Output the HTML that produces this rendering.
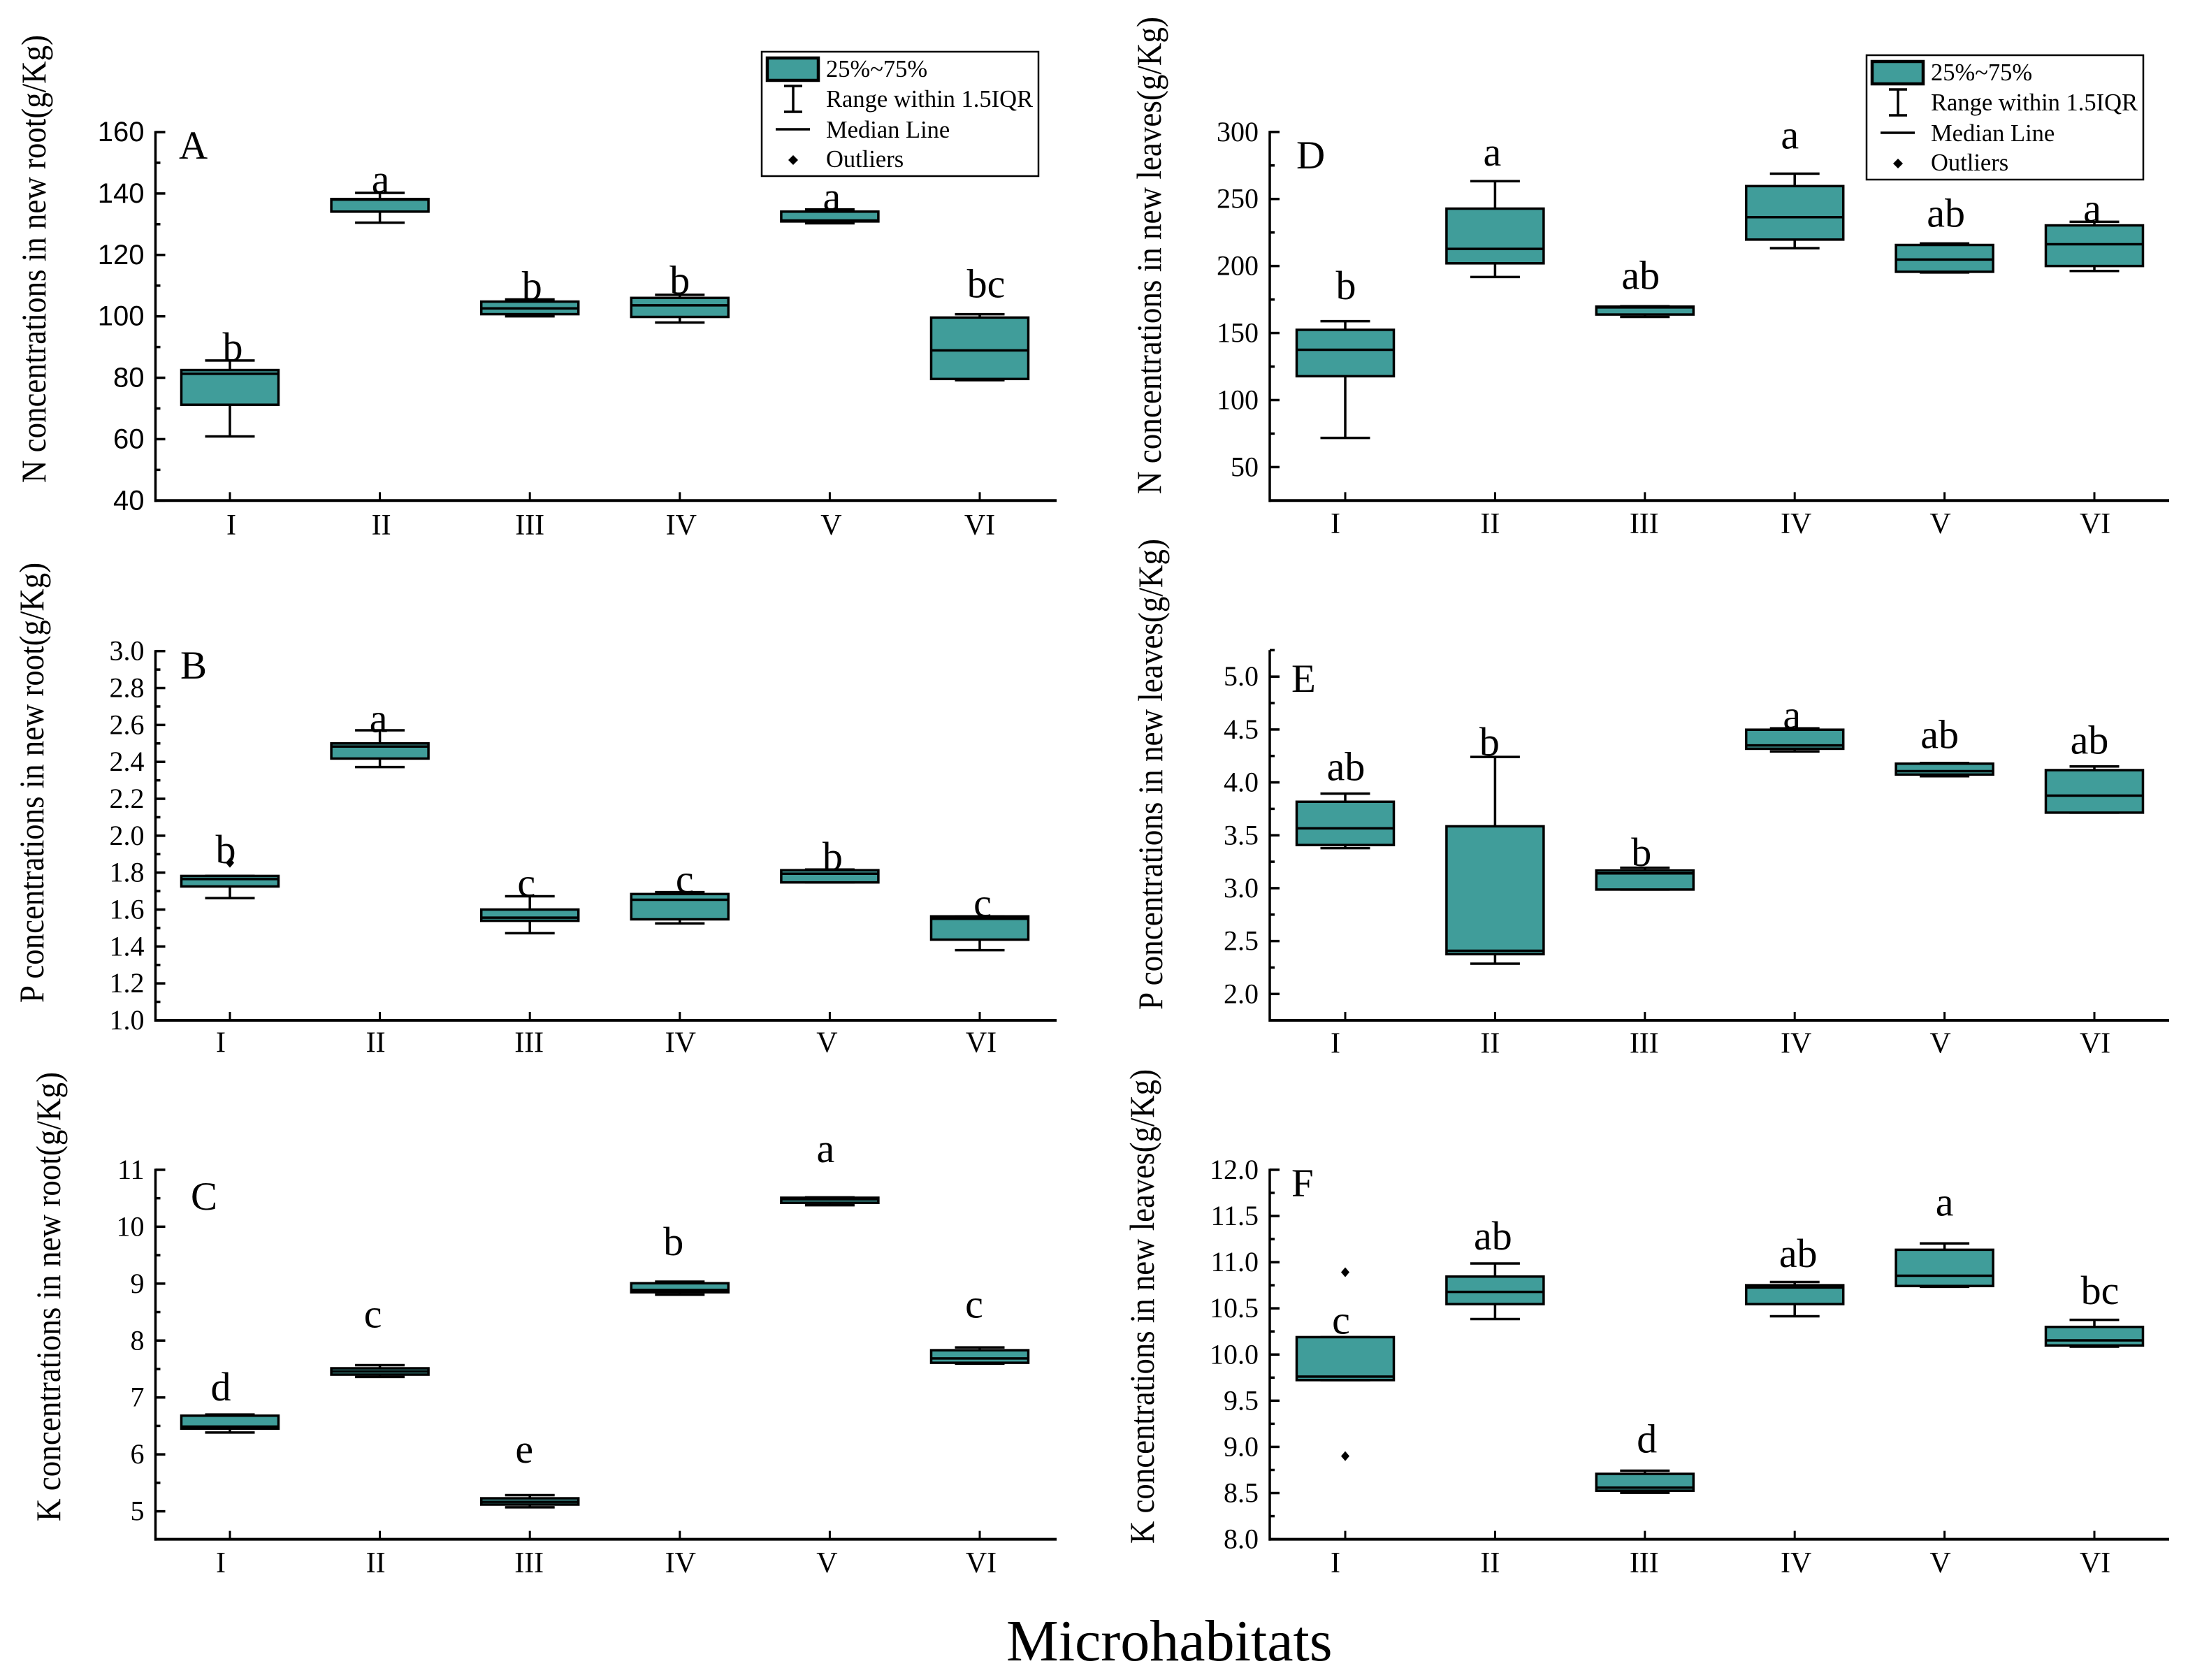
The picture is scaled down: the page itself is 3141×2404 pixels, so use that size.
<!DOCTYPE html>
<html lang="en">
<head>
<meta charset="utf-8">
<title>Nutrient concentrations by microhabitat</title>
<style>
html,body{margin:0;padding:0;background:#fff;}
svg{display:block;}
text{font-family:"Liberation Serif",serif;fill:#000;}
</style>
</head>
<body>
<svg id="figure" xmlns="http://www.w3.org/2000/svg" width="3141" height="2404" viewBox="0 0 3141 2404">
  <rect x="0" y="0" width="3141" height="2404" fill="#ffffff"/>
  <text x="1440" y="2376" font-size="84">Microhabitats</text>

  <g transform="translate(1090,74)">
    <rect x="0" y="0" width="396" height="178" fill="#fff" stroke="#000" stroke-width="2.5"/>
    <rect x="8" y="9" width="73" height="32" fill="#409d9a" stroke="#000" stroke-width="4.5"/>
    <path d="M32 49H58M45 49V86M32 86H58" fill="none" stroke="#000" stroke-width="3.5"/>
    <line x1="20" y1="111" x2="69" y2="111" stroke="#000" stroke-width="3.5"/>
    <path d="M45 148L52 155L45 162L38 155Z" fill="#000"/>
    <text x="92" y="36" font-size="34.5">25%~75%</text>
    <text x="92" y="79" font-size="34.5">Range within 1.5IQR</text>
    <text x="92" y="123" font-size="34.5">Median Line</text>
    <text x="92" y="165" font-size="34.5">Outliers</text>
  </g>
  <g transform="translate(2671,79)">
    <rect x="0" y="0" width="396" height="178" fill="#fff" stroke="#000" stroke-width="2.5"/>
    <rect x="8" y="9" width="73" height="32" fill="#409d9a" stroke="#000" stroke-width="4.5"/>
    <path d="M32 49H58M45 49V86M32 86H58" fill="none" stroke="#000" stroke-width="3.5"/>
    <line x1="20" y1="111" x2="69" y2="111" stroke="#000" stroke-width="3.5"/>
    <path d="M45 148L52 155L45 162L38 155Z" fill="#000"/>
    <text x="92" y="36" font-size="34.5">25%~75%</text>
    <text x="92" y="79" font-size="34.5">Range within 1.5IQR</text>
    <text x="92" y="123" font-size="34.5">Median Line</text>
    <text x="92" y="165" font-size="34.5">Outliers</text>
  </g>
</svg>
<script>
// ---------- shared categories ----------
const categories = ['I', 'II', 'III', 'IV', 'V', 'VI'];

// ---------- Panel A: N in new root ----------
const a_q3 = [82.5, 138.2, 104.8, 106.0, 134.1, 99.6];
const a_q1 = [71.2, 134.1, 100.7, 99.8, 130.9, 79.6];
const a_median = [81.3, 138.0, 102.6, 103.6, 131.2, 88.9];
const a_high = [85.6, 140.2, 105.5, 107.0, 134.8, 100.7];
const a_low = [60.9, 130.5, 100.0, 98.0, 130.3, 79.2];
const a_outliers = [[], [], [], [], [], []];
const a_letters = ['b', 'a', 'b', 'b', 'a', 'bc'];
const a_letterLevel = [86, 140.6, 106, 107.8, 135, 106.6];
const a_ticks = [40, 60, 80, 100, 120, 140, 160];
const a_tickLabels = ['40', '60', '80', '100', '120', '140', '160'];
const a_minorTicks = [50, 70, 90, 110, 130, 150];

// ---------- Panel B: P in new root ----------
const b_q3 = [1.782, 2.50, 1.60, 1.684, 1.813, 1.563];
const b_q1 = [1.725, 2.418, 1.539, 1.547, 1.747, 1.437];
const b_median = [1.765, 2.483, 1.556, 1.653, 1.794, 1.55];
const b_high = [1.782, 2.571, 1.672, 1.694, 1.817, 1.563];
const b_low = [1.662, 2.372, 1.472, 1.525, 1.747, 1.38];
const b_outliers = [[1.853], [], [], [], [], []];
const b_letters = ['b', 'a', 'c', 'c', 'b', 'c'];
const b_letterLevel = [1.859, 2.569, 1.679, 1.699, 1.822, 1.569];
const b_ticks = [1.0, 1.2, 1.4, 1.6, 1.8, 2.0, 2.2, 2.4, 2.6, 2.8, 3.0];
const b_tickLabels = ['1.0', '1.2', '1.4', '1.6', '1.8', '2.0', '2.2', '2.4', '2.6', '2.8', '3.0'];
const b_minorTicks = [1.1, 1.3, 1.5, 1.7, 1.9, 2.1, 2.3, 2.5, 2.7, 2.9];

// ---------- Panel C: K in new root ----------
const c_q3 = [6.68, 7.512, 5.228, 9.007, 10.509, 7.83];
const c_q1 = [6.453, 7.401, 5.118, 8.848, 10.419, 7.609];
const c_median = [6.488, 7.457, 5.166, 8.889, 10.481, 7.685];
const c_high = [6.70, 7.567, 5.284, 9.035, 10.516, 7.879];
const c_low = [6.384, 7.36, 5.07, 8.806, 10.377, 7.595];
const c_outliers = [[], [], [], [], [], []];
const c_letters = ['d', 'c', 'e', 'b', 'a', 'c'];
const c_letterLevel = [6.972, 8.253, 5.879, 9.526, 11.159, 8.426];
const c_ticks = [5, 6, 7, 8, 9, 10, 11];
const c_tickLabels = ['5', '6', '7', '8', '9', '10', '11'];
const c_minorTicks = [5.5, 6.5, 7.5, 8.5, 9.5, 10.5];

// ---------- Panel D: N in new leaves ----------
const d_q3 = [152.4, 242.8, 169.7, 259.6, 215.7, 230.3];
const d_q1 = [117.8, 202, 163.8, 219.7, 195.7, 200];
const d_median = [137.5, 212.8, 169.1, 236.4, 204.8, 216.2];
const d_high = [158.8, 263.3, 170, 268.9, 216.8, 233];
const d_low = [71.8, 191.8, 162, 213.3, 195.2, 196.3];
const d_outliers = [[], [], [], [], [], []];
const d_letters = ['b', 'a', 'ab', 'a', 'ab', 'a'];
const d_letterLevel = [176.3, 276, 183.8, 288.6, 230.3, 234];
const d_ticks = [50, 100, 150, 200, 250, 300];
const d_tickLabels = ['50', '100', '150', '200', '250', '300'];
const d_minorTicks = [75, 125, 175, 225, 275];

// ---------- Panel E: P in new leaves ----------
const e_q3 = [3.817, 3.585, 3.167, 4.498, 4.177, 4.116];
const e_q1 = [3.408, 2.376, 2.987, 4.318, 4.074, 3.714];
const e_median = [3.566, 2.408, 3.14, 4.35, 4.106, 3.875];
const e_high = [3.894, 4.241, 3.193, 4.511, 4.183, 4.151];
const e_low = [3.379, 2.286, 2.987, 4.293, 4.058, 3.714];
const e_outliers = [[], [], [], [], [], []];
const e_letters = ['ab', 'b', 'b', 'a', 'ab', 'ab'];
const e_letterLevel = [4.035, 4.267, 3.225, 4.524, 4.338, 4.286];
const e_ticks = [2.0, 2.5, 3.0, 3.5, 4.0, 4.5, 5.0];
const e_tickLabels = ['2.0', '2.5', '3.0', '3.5', '4.0', '4.5', '5.0'];
const e_minorTicks = [2.25, 2.75, 3.25, 3.75, 4.25, 4.75, 5.25];

// ---------- Panel F: K in new leaves ----------
const f_q3 = [10.188, 10.844, 8.708, 10.75, 11.134, 10.299];
const f_q1 = [9.723, 10.546, 8.525, 10.546, 10.742, 10.098];
const f_median = [9.761, 10.678, 8.559, 10.725, 10.853, 10.153];
const f_high = [10.188, 10.985, 8.742, 10.785, 11.203, 10.375];
const f_low = [9.723, 10.384, 8.503, 10.414, 10.733, 10.085];
const f_outliers = [[10.891, 8.9], [], [], [], [], []];
const f_letters = ['c', 'ab', 'd', 'ab', 'a', 'bc'];
const f_letterLevel = [10.239, 11.151, 8.955, 10.964, 11.518, 10.563];
const f_ticks = [8.0, 8.5, 9.0, 9.5, 10.0, 10.5, 11.0, 11.5, 12.0];
const f_tickLabels = ['8.0', '8.5', '9.0', '9.5', '10.0', '10.5', '11.0', '11.5', '12.0'];
const f_minorTicks = [8.25, 8.75, 9.25, 9.75, 10.25, 10.75, 11.25, 11.75];

// ---------- panel wiring (layout kept apart from the data above) ----------
const FILL = '#409d9a';
const LEFT = {axisX: 222.5, axisEnd: 1512, first: 329, step: 214.6};
const RIGHT = {axisX: 1817, axisEnd: 3104, first: 1925, step: 214.4};

function series(q3, q1, median, high, low, outliers, letters, letterLevel, ticks, tickLabels, minorTicks) {
  return {q3, q1, median, high, low, outliers, letters, letterLevel, ticks, tickLabels, minorTicks};
}

const panels = [
  {id: 'a', tag: 'A', col: LEFT, data: series(a_q3, a_q1, a_median, a_high, a_low, a_outliers, a_letters, a_letterLevel, a_ticks, a_tickLabels, a_minorTicks),
   vTop: 160, vBot: 40, vRef: 40, pxTop: 189, pxRef: 716.3, base: 716.3, tickFont: '"Liberation Sans",sans-serif',
   title: 'N concentrations in new root(g/Kg)', titleX: 65, titleY0: 691, titleY1: 50,
   tagX: 256, tagY: 227, catY: 765, catNudge: [2, 2, 0, 2, 2, 0], letterNudge: [4, 1, 3, 0, 3, 9]},
  {id: 'b', tag: 'B', col: LEFT, data: series(b_q3, b_q1, b_median, b_high, b_low, b_outliers, b_letters, b_letterLevel, b_ticks, b_tickLabels, b_minorTicks),
   vTop: 3, vBot: 1, vRef: 1, pxTop: 931.7, pxRef: 1460, base: 1460, tickFont: null,
   title: 'P concentrations in new root(g/Kg)', titleX: 62, titleY0: 1435, titleY1: 805,
   tagX: 258, tagY: 971, catY: 1505.6, catNudge: [-13, -6, -1, 1, -4, 2], letterNudge: [-6, -2, -5, 7, 4, 4]},
  {id: 'c', tag: 'C', col: LEFT, data: series(c_q3, c_q1, c_median, c_high, c_low, c_outliers, c_letters, c_letterLevel, c_ticks, c_tickLabels, c_minorTicks),
   vTop: 11, vBot: 4.51, vRef: 5, pxTop: 1673.9, pxRef: 2162.6, base: 2202.6, tickFont: null,
   title: 'K concentrations in new root(g/Kg)', titleX: 86, titleY0: 2177, titleY1: 1534,
   tagX: 273, tagY: 1731, catY: 2250, catNudge: [-13, -6, -1, 1, -4, 2], letterNudge: [-13, -10, -8, -9, -6, -8]},
  {id: 'd', tag: 'D', col: RIGHT, data: series(d_q3, d_q1, d_median, d_high, d_low, d_outliers, d_letters, d_letterLevel, d_ticks, d_tickLabels, d_minorTicks),
   vTop: 300, vBot: 25, vRef: 50, pxTop: 188.8, pxRef: 668.4, base: 716.3, tickFont: null,
   title: 'N concentrations in new leaves(g/Kg)', titleX: 1661, titleY0: 707, titleY1: 24,
   tagX: 1855, tagY: 241, catY: 763, catNudge: [-14, -7, -1, 2, -6, 1], letterNudge: [1, -4, -6, -7, 2, -3]},
  {id: 'e', tag: 'E', col: RIGHT, data: series(e_q3, e_q1, e_median, e_high, e_low, e_outliers, e_letters, e_letterLevel, e_ticks, e_tickLabels, e_minorTicks),
   vTop: 5.254, vBot: 1.75, vRef: 2, pxTop: 931.7, pxRef: 1422.3, base: 1460, tickFont: null,
   title: 'P concentrations in new leaves(g/Kg)', titleX: 1663, titleY0: 1445, titleY1: 771,
   tagX: 1848, tagY: 990, catY: 1506.6, catNudge: [-14, -7, -1, 2, -6, 1], letterNudge: [1, -8, -5, -4, -7, -7]},
  {id: 'f', tag: 'F', col: RIGHT, data: series(f_q3, f_q1, f_median, f_high, f_low, f_outliers, f_letters, f_letterLevel, f_ticks, f_tickLabels, f_minorTicks),
   vTop: 12, vBot: 8, vRef: 8, pxTop: 1673.9, pxRef: 2202.6, base: 2202.6, tickFont: null,
   title: 'K concentrations in new leaves(g/Kg)', titleX: 1651, titleY0: 2209, titleY1: 1530,
   tagX: 1848, tagY: 1712, catY: 2250, catNudge: [-14, -7, -1, 2, -6, 1], letterNudge: [-6, -3, 3, 5, 0, 8]}
];

const NS = 'http://www.w3.org/2000/svg';
const root = document.getElementById('figure');

function make(tag, parent, attrs) {
  const node = document.createElementNS(NS, tag);
  for (const key in attrs) node.setAttribute(key, attrs[key]);
  parent.appendChild(node);
  return node;
}

function drawPanel(p) {
  const d = p.data;
  const col = p.col;
  // y axis function: anchored at the top of the axis and one reference value
  const yRefTop = (p.id === 'e') ? 5 : p.vTop;
  const pxRefTop = (p.id === 'e') ? 968.2 : p.pxTop;
  const scale = (p.pxRef - pxRefTop) / (yRefTop - p.vRef);
  const yOf = function (v) { return pxRefTop + (yRefTop - v) * scale; };
  const xOf = function (i) { return col.first + i * col.step; };

  const group = make('g', root, {});
  
  

  // y axis title (stretched to the reference extent)
  const title = make('text', group, {
    transform: 'translate(' + p.titleX + ',' + p.titleY0 + ') rotate(-90)',
    'font-size': 50,
    textLength: p.titleY0 - p.titleY1,
    lengthAdjust: 'spacingAndGlyphs'
  });
  title.textContent = p.title;
  
  

  // axes
  const yAxis = make('line', group, {x1: col.axisX, x2: col.axisX, y1: p.pxTop - 1.5, y2: p.base + 2, stroke: '#000', 'stroke-width': 3.5});
  
  

  const xAxis = make('line', group, {x1: col.axisX - 1.5, x2: col.axisEnd, y1: p.base, y2: p.base, stroke: '#000', 'stroke-width': 4});
  
  

  // y ticks
  d.ticks.forEach(function (v, i) {
    const tick = make('line', group, {x1: col.axisX, x2: col.axisX + 14, y1: yOf(v), y2: yOf(v), stroke: '#000', 'stroke-width': 3.5});
    
    

    const label = make('text', group, {x: col.axisX - 16, y: yOf(v) + 13, 'font-size': 40, 'text-anchor': 'end'});
    if (p.tickFont) label.style.fontFamily = p.tickFont;
    label.textContent = d.tickLabels[i];
    
    
  });
  d.minorTicks.forEach(function (v) {
    const minor = make('line', group, {x1: col.axisX, x2: col.axisX + 7, y1: yOf(v), y2: yOf(v), stroke: '#000', 'stroke-width': 3.5});
    
    
  });

  // panel tag
  const tag = make('text', group, {x: p.tagX, y: p.tagY, 'font-size': 57});
  tag.textContent = p.tag;
  
  

  // categories
  categories.forEach(function (cat, i) {
    const x = xOf(i);

    const xTick = make('line', group, {x1: x, x2: x, y1: p.base - 12, y2: p.base, stroke: '#000', 'stroke-width': 3});
    
    

    const catLabel = make('text', group, {x: x + p.catNudge[i], y: p.catY, 'font-size': 42, 'text-anchor': 'middle'});
    catLabel.textContent = cat;
    
    

    const stem = make('line', group, {x1: x, x2: x, y1: yOf(d.high[i]), y2: yOf(d.low[i]), stroke: '#000', 'stroke-width': 3.5});
    
    

    const capHigh = make('line', group, {x1: x - 35.5, x2: x + 35.5, y1: yOf(d.high[i]), y2: yOf(d.high[i]), stroke: '#000', 'stroke-width': 3.5});
    
    

    const capLow = make('line', group, {x1: x - 35.5, x2: x + 35.5, y1: yOf(d.low[i]), y2: yOf(d.low[i]), stroke: '#000', 'stroke-width': 3.5});
    
    

    const box = make('rect', group, {x: x - 69.5, width: 139, y: yOf(d.q3[i]), height: yOf(d.q1[i]) - yOf(d.q3[i]), fill: FILL, stroke: '#000', 'stroke-width': 3.5});
    
    

    const median = make('line', group, {x1: x - 69.5, x2: x + 69.5, y1: yOf(d.median[i]), y2: yOf(d.median[i]), stroke: '#000', 'stroke-width': 3.5});
    
    

    d.outliers[i].forEach(function (v) {
      const cy = yOf(v);
      const outlier = make('path', group, {d: 'M' + x + ' ' + (cy - 7) + 'L' + (x + 6) + ' ' + cy + 'L' + x + ' ' + (cy + 7) + 'L' + (x - 6) + ' ' + cy + 'Z', fill: '#000'});
      
      
    });

    const letter = make('text', group, {x: x + p.letterNudge[i], y: yOf(d.letterLevel[i]) + 2, 'font-size': 58, 'text-anchor': 'middle'});
    letter.textContent = d.letters[i];
    
    
  });
}

panels.forEach(drawPanel);
</script>
</body>
</html>
